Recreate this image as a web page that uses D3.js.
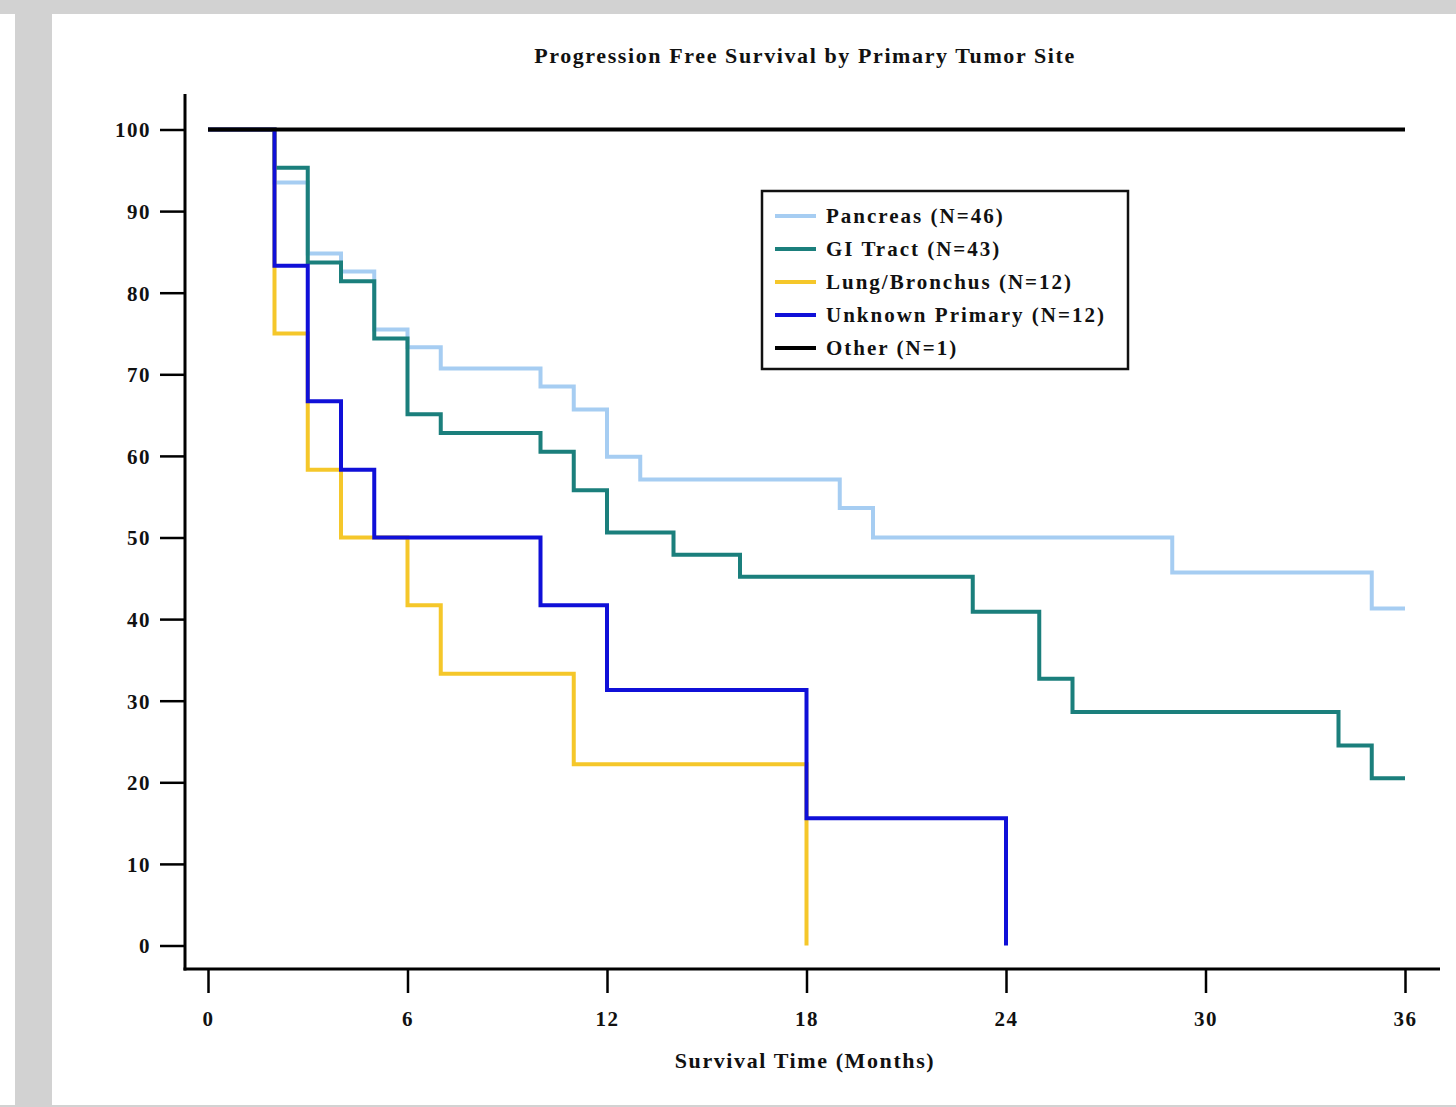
<!DOCTYPE html>
<meta charset="utf-8">
<style>
body { margin: 0; background: #fff; }
svg { display: block; }
text { font-family: "Liberation Serif", "DejaVu Serif", serif; font-weight: bold; fill: #111; }
.axis path, .axis line { stroke: #000; }
</style>
<svg width="1456" height="1107"></svg>
<script src="https://cdn.jsdelivr.net/npm/d3@7"></script>
<script>
var width = 1456, height = 1107;

// months / percent progression free
var pancreasT = [0, 2, 3, 4, 5, 6, 7, 10, 11, 12, 13, 19, 20, 29, 35, 36];
var pancreasS = [100, 93.5, 84.8, 82.6, 75.5, 73.3, 70.7, 68.5, 65.7, 59.9, 57.1, 53.6, 50.0, 45.7, 41.3, 41.3];

var giT = [0, 2, 3, 4, 5, 6, 7, 10, 11, 12, 14, 16, 23, 25, 26, 34, 35, 36];
var giS = [100, 95.3, 83.7, 81.4, 74.4, 65.1, 62.8, 60.5, 55.8, 50.6, 47.9, 45.2, 40.9, 32.7, 28.6, 24.5, 20.5, 20.5];

var lungT = [0, 2, 3, 4, 6, 7, 11, 18, 18];
var lungS = [100, 75.0, 58.3, 50.0, 41.7, 33.3, 22.2, 22.2, 0];

var unknownT = [0, 2, 3, 4, 5, 10, 12, 18, 24, 24];
var unknownS = [100, 83.3, 66.7, 58.3, 50.0, 41.7, 31.3, 15.6, 15.6, 0];

var otherT = [0, 36];
var otherS = [100, 100];

var seriesNames = ["Pancreas (N=46)", "GI Tract (N=43)", "Lung/Bronchus (N=12)", "Unknown Primary (N=12)", "Other (N=1)"];
var seriesColors = ["#a6cdf2", "#1b7f7c", "#f5c72a", "#1010d8", "#000000"];
var xTicks = [0, 6, 12, 18, 24, 30, 36];
var yTicks = [0, 10, 20, 30, 40, 50, 60, 70, 80, 90, 100];

var series = [
  [pancreasT, pancreasS],
  [giT, giS],
  [lungT, lungS],
  [unknownT, unknownS],
  [otherT, otherS]
];

var svg = d3.select("svg");

// grey frame round the page
svg.append("rect").attr("x", 0).attr("y", 0).attr("width", width).attr("height", 14).attr("fill", "#d2d2d2");
svg.append("rect").attr("x", 15).attr("y", 14).attr("width", 37).attr("height", height).attr("fill", "#d2d2d2");
svg.append("rect").attr("x", 0).attr("y", 1105).attr("width", width).attr("height", 2).attr("fill", "#d2d2d2");

var x = d3.scaleLinear().domain([0, 36]).range([208, 1405]);
var y = d3.scaleLinear().domain([0, 100]).range([945.5, 129.5]);

var axisX = 185, axisY = 969;

// curves
var line = d3.line()
    .x(function(d) { return x(d[0]); })
    .y(function(d) { return y(d[1]); })
    .curve(d3.curveStepAfter);

series.forEach(function(s, i) {
  var pts = s[0].map(function(t, j) { return [t, s[1][j]]; });
  svg.append("path")
      .attr("d", line(pts))
      .attr("fill", "none")
      .attr("stroke", seriesColors[i])
      .attr("stroke-width", 4);
});

// axes
var yAxis = d3.axisLeft(y).tickValues(yTicks).tickSize(25).tickPadding(9).tickSizeOuter(0);
var gy = svg.append("g").attr("class", "axis").attr("transform", "translate(" + axisX + ",0)").call(yAxis);
gy.select(".domain").remove();
gy.selectAll("line").attr("stroke-width", 2.5);
gy.selectAll("text").attr("font-size", 21).attr("dy", "0.35em")
    .style("letter-spacing", "1.5px")
    .style("font-family", "'Liberation Serif', serif").style("font-weight", "bold");
gy.append("line").attr("x1", 0).attr("x2", 0).attr("y1", 94).attr("y2", axisY + 1.5)
    .attr("stroke", "#000").attr("stroke-width", 3);

var xAxis = d3.axisBottom(x).tickValues(xTicks).tickSize(24).tickPadding(18).tickSizeOuter(0);
var gx = svg.append("g").attr("class", "axis").attr("transform", "translate(0," + axisY + ")").call(xAxis);
gx.select(".domain").remove();
gx.selectAll("line").attr("stroke-width", 2.5);
gx.selectAll("text").attr("font-size", 21)
    .style("letter-spacing", "1.5px")
    .style("font-family", "'Liberation Serif', serif").style("font-weight", "bold");
gx.append("line").attr("x1", axisX - 1.5).attr("x2", 1440).attr("y1", 0).attr("y2", 0)
    .attr("stroke", "#000").attr("stroke-width", 3);

// titles
svg.append("text").attr("x", 805).attr("y", 63).attr("text-anchor", "middle")
    .attr("font-size", 22).style("letter-spacing", "1.6px")
    .text("Progression Free Survival by Primary Tumor Site");
svg.append("text").attr("x", 805).attr("y", 1068).attr("text-anchor", "middle")
    .attr("font-size", 22).style("letter-spacing", "1.6px")
    .text("Survival Time (Months)");

// legend
var lg = svg.append("g").attr("transform", "translate(762,191)");
lg.append("rect").attr("width", 366).attr("height", 178)
    .attr("fill", "#fff").attr("stroke", "#111").attr("stroke-width", 2.5);
seriesNames.forEach(function(name, i) {
  var yy = 25 + i * 33;
  lg.append("line").attr("x1", 13).attr("x2", 54).attr("y1", yy).attr("y2", yy)
      .attr("stroke", seriesColors[i]).attr("stroke-width", 4);
  lg.append("text").attr("x", 64).attr("y", yy).attr("dy", "0.35em")
      .attr("font-size", 21).style("letter-spacing", "2px").text(name);
});
</script>
